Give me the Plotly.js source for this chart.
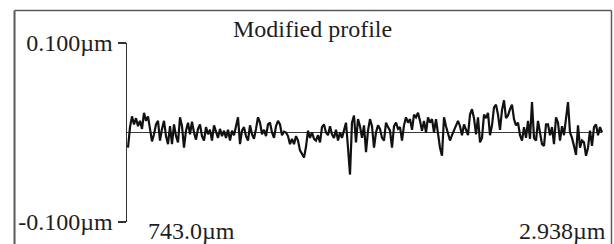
<!DOCTYPE html>
<html>
<head>
<meta charset="utf-8">
<script src="https://cdn.plot.ly/plotly-3.0.1.min.js"></script>
<style>
  html, body { margin: 0; padding: 0; background: #ffffff; }
  #chart { width: 614px; height: 244px; }
</style>
</head>
<body>
<div id="chart"></div>
<script>
// ---- data (profile height in nm) ----
const chartTitle = "Modified profile";
const yTickValues = [-100, 100];
const yTickLabels = ["-0.100\u00b5m", "0.100\u00b5m"];
const xStartLabel = "743.0\u00b5m";
const xEndLabel = "2.938\u00b5m";
const referenceLevel = [0, 0];

const heightNm = [
  -17, 6, 18, 9, 16, 7, 13, 4, 22, 13, 18, 4, -10, -2, 9, 13, -9, 4, 13, -4,
  -13, 7, -13, 9, -4, -11, 17, 7, -17, 2, 11, -2, 12, 0, -8, 4, 9, -4, -9, 6,
  -2, 3, -9, 8, 0, -6, 4, -4, 2, -6, 3, -9, 2, -3, 7, 17, -13, 2, 6, -4,
  -9, 8, -2, -7, 4, 17, 11, -2, 3, -4, 9, 11, 0, -6, 7, 13, 9, -3, 1, 0,
  -4, -13, -7, -13, -4, -9, -20, -25, -28, -16, 2, -6, 0, -7, -9, -3, -11, 6, 9, 0,
  -3, 7, -2, -6, 3, -9, 0, -6, 4, 11, -17, -47, 11, 19, -11, 15, 7, -6, 8, -22,
  2, 15, 7, -17, 0, 8, 4, -6, -9, 11, 6, 2, -17, 7, 11, 4, 6, -9, 8, 17,
  11, 15, 3, 20, 17, 22, 13, 2, 13, 0, 17, 11, 15, 0, 15, -3, -17, -26, 17, 7,
  -2, -9, -3, 2, 6, 13, 7, -3, 9, 3, -3, 20, 26, 16, -2, 17, -11, -6, 20, 16,
  22, -3, 8, 28, 31, 20, 3, 25, 36, 16, 19, 26, 31, 15, 8, 11, -3, -9, 6, -6,
  13, -7, 34, -6, -9, 13, 2, -13, -15, 9, 9, -3, 6, -13, 17, 11, -9, 7, -3, 15,
  34, 0, -6, -15, -25, 8, -17, -9, -11, -26, -17, 2, -15, 6, 9, -3, 6, 0
];

const sampleIndex = heightNm.map((_, i) => i);
const lastIndex = heightNm.length - 1;

const serif = "Liberation Serif, Times New Roman, serif";
const ink = "#1e1e1e";

const traces = [
  {
    x: [-0.5, lastIndex],
    y: referenceLevel,
    type: "scatter",
    mode: "lines",
    line: { color: "#3a3a3a", width: 1 },
    hoverinfo: "skip",
    showlegend: false
  },
  {
    x: sampleIndex,
    y: heightNm,
    type: "scatter",
    mode: "lines",
    line: { color: "#111111", width: 2.2 },
    showlegend: false
  }
];

const frameColor = "#5a5a5a";
const layout = {
  width: 614,
  height: 244,
  margin: { l: 127, r: 10, t: 43, b: 22, pad: 0, autoexpand: false },
  paper_bgcolor: "#ffffff",
  plot_bgcolor: "#ffffff",
  showlegend: false,
  title: {
    text: chartTitle,
    font: { family: serif, size: 24, color: ink },
    xref: "container", x: 0.509, xanchor: "center",
    yref: "container", y: 0.881, yanchor: "middle"
  },
  xaxis: {
    range: [-0.5, lastIndex + 1],
    showline: false, showgrid: false, zeroline: false,
    showticklabels: false, ticks: "", fixedrange: true
  },
  yaxis: {
    range: [-100, 100],
    showline: true, linecolor: "#333333", linewidth: 1.5,
    showgrid: false, zeroline: false,
    ticks: "outside", ticklen: 8, tickwidth: 1.5, tickcolor: "#333333",
    tickvals: yTickValues, ticktext: yTickLabels,
    tickfont: { family: serif, size: 24, color: ink },
    ticklabelstandoff: 0,
    fixedrange: true
  },
  annotations: [
    {
      text: xStartLabel, showarrow: false,
      xref: "paper", yref: "paper", x: 0.040, y: -0.05,
      xanchor: "left", yanchor: "middle",
      font: { family: serif, size: 24, color: ink }
    },
    {
      text: xEndLabel, showarrow: false,
      xref: "paper", yref: "paper", x: 1.0075, y: -0.05,
      xanchor: "right", yanchor: "middle",
      font: { family: serif, size: 24, color: ink }
    }
  ],
  shapes: [
    { type: "line", xref: "paper", yref: "paper", x0: -0.2358, x1: 1.0157, y0: 1.1816, y1: 1.1816,
      line: { color: frameColor, width: 1.5 } },
    { type: "line", xref: "paper", yref: "paper", x0: -0.2358, x1: -0.2358, y0: 1.1816, y1: -0.2,
      line: { color: frameColor, width: 2 } },
    { type: "line", xref: "paper", yref: "paper", x0: 1.0157, x1: 1.0157, y0: 1.1816, y1: -0.2,
      line: { color: frameColor, width: 1.5 } }
  ]
};

Plotly.newPlot("chart", traces, layout, { displayModeBar: false, staticPlot: true });
</script>
</body>
</html>
